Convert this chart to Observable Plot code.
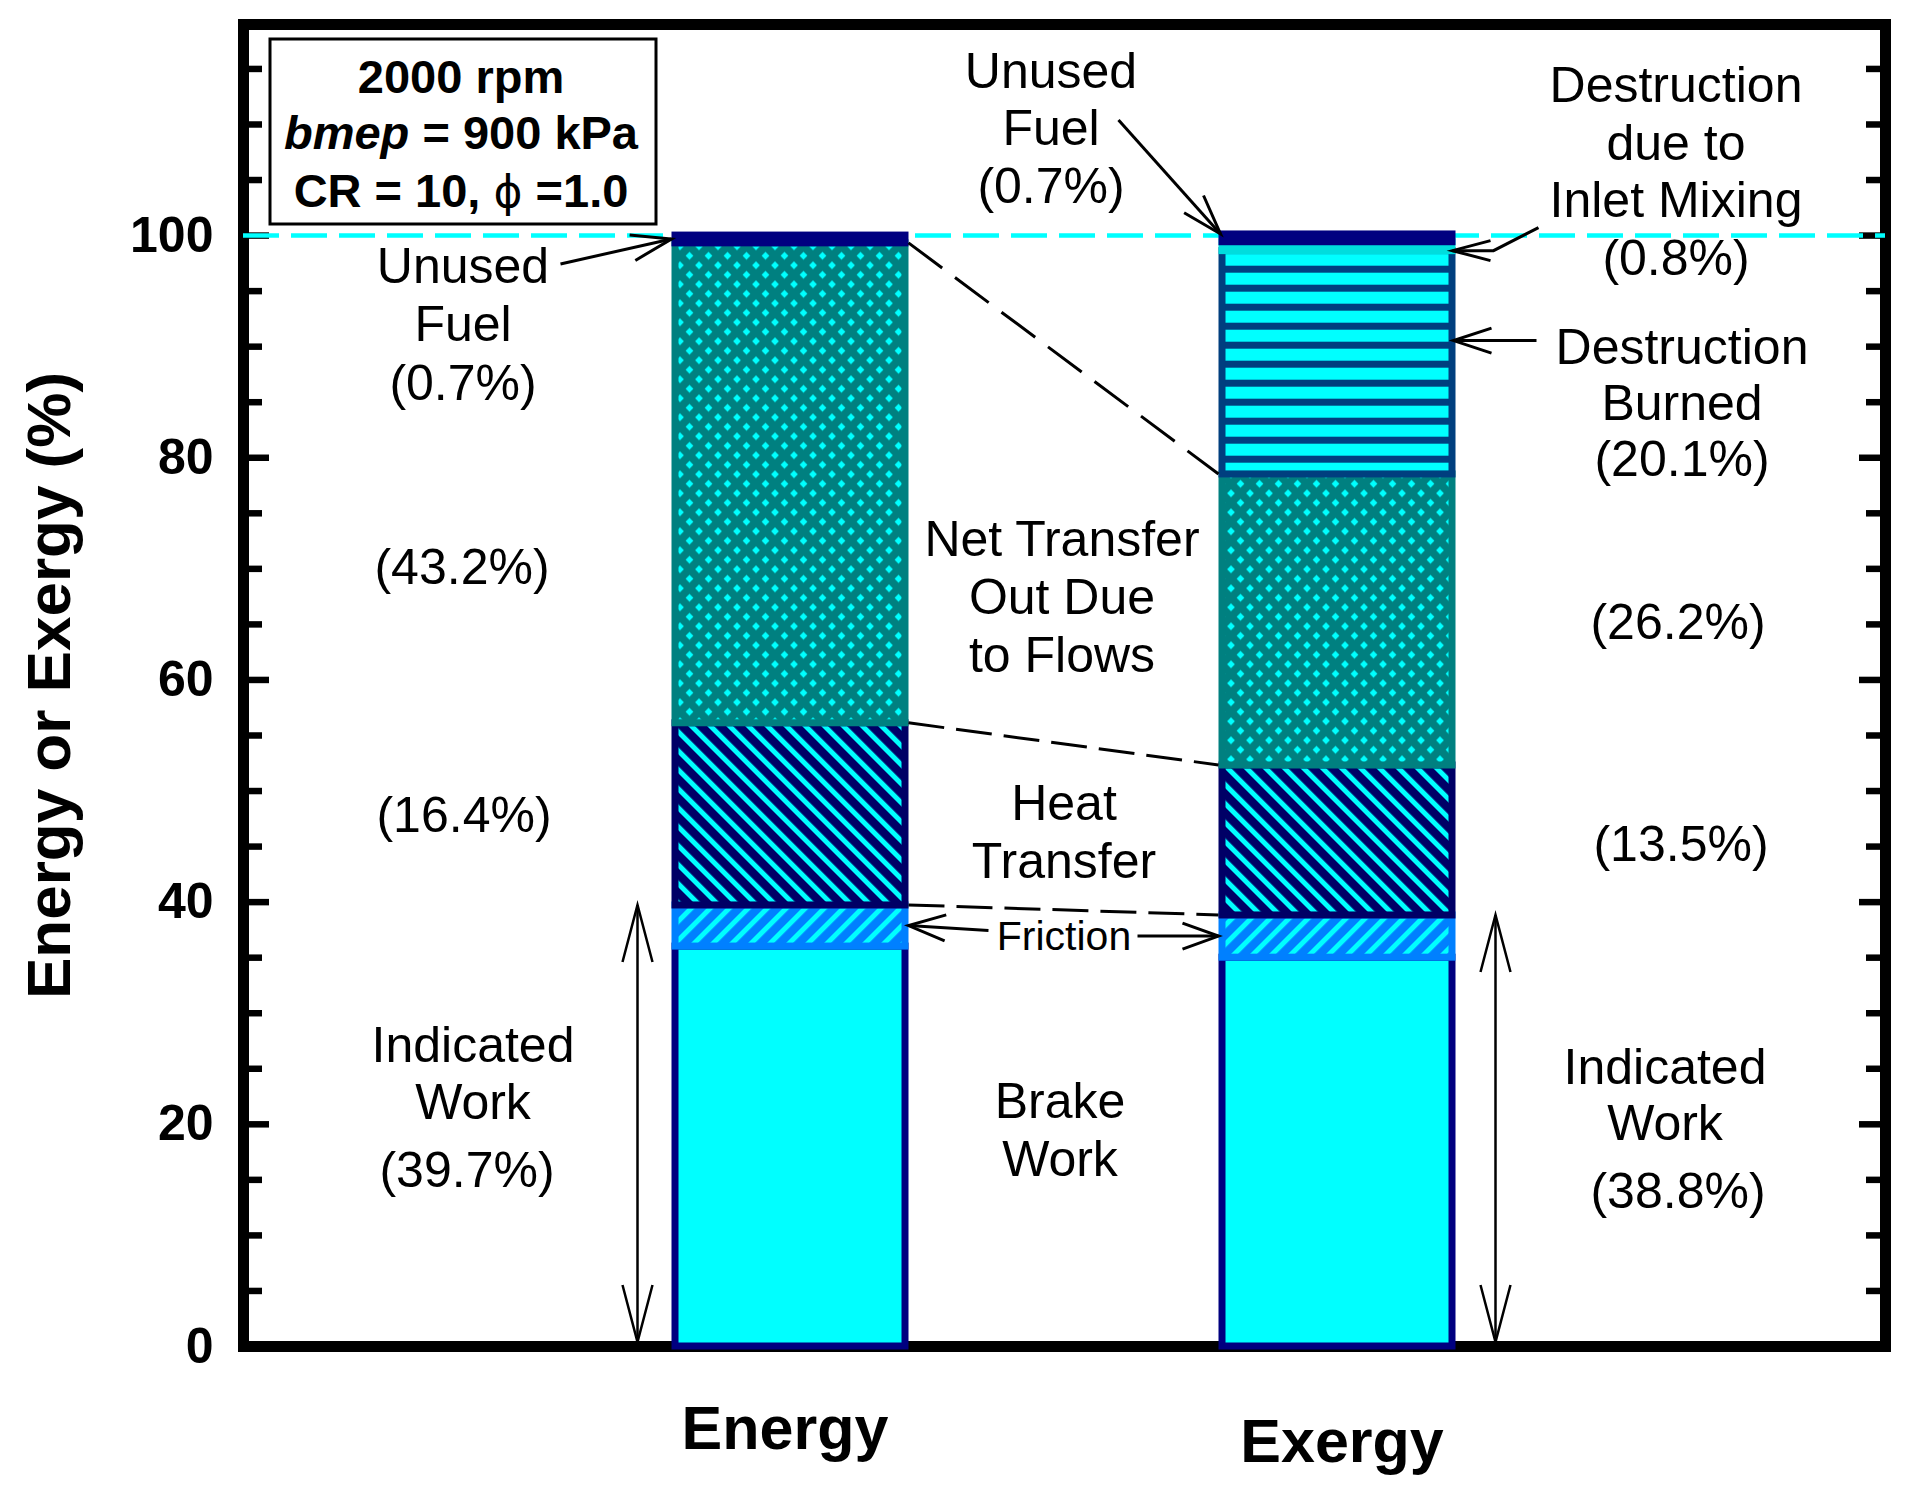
<!DOCTYPE html>
<html>
<head>
<meta charset="utf-8">
<script src="https://cdn.jsdelivr.net/npm/d3@7"></script>
<script src="https://cdn.jsdelivr.net/npm/@observablehq/plot@0.6"></script>
<style>
  body { margin: 0; background: #fff; }
  svg text { white-space: pre; }
</style>
</head>
<body>
<div id="chart"></div>
<script>
// ---------------- data ----------------
const categories = ["Energy", "Exergy"];
const energyComponents = ["Brake Work", "Friction", "Heat Transfer", "Net Transfer Out Due to Flows", "Unused Fuel"];
const energyValues = [36.0, 3.7, 16.4, 43.2, 0.7];
const exergyComponents = ["Brake Work", "Friction", "Heat Transfer", "Net Transfer Out Due to Flows", "Destruction Burned", "Destruction due to Inlet Mixing", "Unused Fuel"];
const exergyValues = [35.0, 3.8, 13.5, 26.2, 20.1, 0.8, 0.7];
const yMajorTicks = [0, 20, 40, 60, 80, 100];
const yMinorTicks = [5, 10, 15, 25, 30, 35, 45, 50, 55, 65, 70, 75, 85, 90, 95, 105, 110, 115];
const yDomain = [0, 119];

// ---------------- table for the library ----------------
const rows = [
  ...energyComponents.map((c, i) => ({category: categories[0], component: c, value: energyValues[i]})),
  ...exergyComponents.map((c, i) => ({category: categories[1], component: c, value: exergyValues[i]}))
];

// ---------------- styles ----------------
const W = 1908, H = 1491;
const margin = {top: 24, right: 23, bottom: 145, left: 243};
const plotW = W - margin.left - margin.right;
const BAR_STROKE = 7;
const FONT = "'Liberation Sans', Arial, Helvetica, sans-serif";
const segFill = ["#00FFFF", "url(#pFriction)", "url(#pHeat)", "url(#pDots)", "url(#pBurned)", "#00DDDD", "#000080"];
const segStroke = {
  "Brake Work": "#000080",
  "Friction": "#0080FF",
  "Heat Transfer": "#000066",
  "Net Transfer Out Due to Flows": "#008080",
  "Destruction Burned": "#003F7F",
  "Destruction due to Inlet Mixing": "#00DDDD",
  "Unused Fuel": "#000080"
};

// ---------------- pattern defs ----------------
function patternDefs() {
  const defs = d3.create("svg:defs");
  // diamond dots (net transfer)
  const pd = defs.append("pattern").attr("id", "pDots").attr("patternUnits", "userSpaceOnUse")
    .attr("width", 19).attr("height", 19).attr("x", -4).attr("y", -0.7);
  pd.append("rect").attr("width", 19).attr("height", 19).attr("fill", "#008080");
  const dia = (cx, cy, r) => `M${cx},${cy - r}L${cx + r},${cy}L${cx},${cy + r}L${cx - r},${cy}Z`;
  pd.append("path").attr("fill", "#00FFFF")
    .attr("d", [[0, 0], [19, 0], [0, 19], [19, 19], [9.5, 9.5]].map(([a, b]) => dia(a, b, 3.9)).join(""));
  // "\" stripes (heat transfer)
  const s = 13.435;
  const ph = defs.append("pattern").attr("id", "pHeat").attr("patternUnits", "userSpaceOnUse")
    .attr("width", s).attr("height", s).attr("patternTransform", "rotate(-45)");
  ph.append("rect").attr("width", s).attr("height", s).attr("fill", "#000066");
  ph.append("rect").attr("width", 5).attr("height", s).attr("fill", "#00FFFF");
  // "/" stripes (friction)
  const pf = defs.append("pattern").attr("id", "pFriction").attr("patternUnits", "userSpaceOnUse")
    .attr("width", s).attr("height", s).attr("patternTransform", "rotate(45)");
  pf.append("rect").attr("width", s).attr("height", s).attr("fill", "#0080FF");
  pf.append("rect").attr("width", 5).attr("height", s).attr("fill", "#00FFFF");
  // horizontal stripes (destruction burned)
  const pb = defs.append("pattern").attr("id", "pBurned").attr("patternUnits", "userSpaceOnUse")
    .attr("width", 19).attr("height", 19).attr("y", -0.3);
  pb.append("rect").attr("width", 19).attr("height", 19).attr("fill", "#00FFFF");
  pb.append("rect").attr("width", 19).attr("height", 7).attr("fill", "#003F7F");
  return defs.node();
}

// ---------------- arrows / connectors ----------------
function head(g, tx, ty, fx, fy, L, Wd, sw) {
  const dx = tx - fx, dy = ty - fy, len = Math.hypot(dx, dy);
  const ux = dx / len, uy = dy / len, nx = -uy, ny = ux;
  const bx = tx - ux * L, by = ty - uy * L;
  g.append("path").attr("stroke-width", sw)
    .attr("d", `M${bx + nx * Wd},${by + ny * Wd}L${tx},${ty}L${bx - nx * Wd},${by - ny * Wd}`);
}
function arrow(g, pts, {L = 40, Wd = 13, sw = 3, both = false} = {}) {
  g.append("path").attr("stroke-width", sw).attr("d", "M" + pts.map(p => p.join(",")).join("L"));
  const n = pts.length;
  head(g, pts[n - 1][0], pts[n - 1][1], pts[n - 2][0], pts[n - 2][1], L, Wd, sw);
  if (both) head(g, pts[0][0], pts[0][1], pts[1][0], pts[1][1], L, Wd, sw);
}

function annotationLines(index, scales, values, dims) {
  const {x, y} = scales;
  const bw = x.bandwidth(), h = BAR_STROKE / 2;
  const eL = x(categories[0]) - h, eR = x(categories[0]) + bw + h;
  const xL = x(categories[1]) - h, xR = x(categories[1]) + bw + h;
  const eCum = Array.from(d3.cumsum(energyValues));
  const xCum = Array.from(d3.cumsum(exergyValues));
  const g = d3.create("svg:g").attr("fill", "none").attr("stroke", "#000");

  // dashed connectors between the bars
  [[3, "42,16"], [2, "36,12"], [1, "36,12"]].forEach(([i, dash]) => {
    g.append("line").attr("x1", eR).attr("y1", y(eCum[i])).attr("x2", xL).attr("y2", y(xCum[i]))
      .attr("stroke-width", 3).attr("stroke-dasharray", dash);
  });

  // Unused fuel (energy)
  let t = [eL, y(eCum[3] + energyValues[4] / 2)];
  arrow(g, [[t[0] - 111, t[1] + 25], t], {L: 40, Wd: 13});
  // Unused fuel (exergy)
  t = [xL + 2, y(xCum[6])];
  arrow(g, [[t[0] - 102, t[1] - 114], t], {L: 40, Wd: 13});
  // inlet mixing
  t = [xR - 3, y(xCum[4])];
  arrow(g, [[t[0] + 86, t[1] - 23], [t[0] + 41, t[1]], t], {L: 38, Wd: 10});
  // destruction burned
  t = [xR - 2, y(90.5)];
  arrow(g, [[t[0] + 83, t[1]], t], {L: 38, Wd: 12.5});
  // friction arrows
  t = [eR, y(eCum[0] + energyValues[1] / 2)];
  arrow(g, [[t[0] + 80, t[1] + 5], t], {L: 37, Wd: 13});
  t = [xL, y(xCum[0] + exergyValues[1] / 2)];
  arrow(g, [[t[0] - 81, t[1]], t], {L: 36, Wd: 13});
  // indicated work double arrows
  arrow(g, [[eL - 34, y(eCum[1])], [eL - 34, y(0) - 4]], {L: 57, Wd: 15, sw: 2.5, both: true});
  arrow(g, [[xR + 40, y(xCum[1])], [xR + 40, y(0) - 4]], {L: 57, Wd: 15, sw: 2.5, both: true});
  return g.node();
}

function infoBox(index, scales, values, dims) {
  const x0 = dims.marginLeft + 27, y0 = dims.marginTop + 15, w = 386, hh = 185, cx = x0 + w / 2 - 2;
  const g = d3.create("svg:g");
  g.append("rect").attr("x", x0).attr("y", y0).attr("width", w).attr("height", hh)
    .attr("fill", "white").attr("stroke", "black").attr("stroke-width", 3);
  const line = (dy) => g.append("text").attr("x", cx).attr("y", y0 + dy).attr("text-anchor", "middle")
    .attr("font-weight", "bold").attr("font-size", 47).attr("fill", "black").attr("font-family", FONT);
  line(54).text("2000 rpm");
  const l2 = line(110);
  l2.append("tspan").attr("font-style", "italic").text("bmep");
  l2.append("tspan").text(" = 900 kPa");
  const l3 = line(168);
  l3.append("tspan").text("CR = 10, ");
  l3.append("tspan").attr("font-weight", "normal").attr("font-family", "'DejaVu Sans', sans-serif").attr("font-size", 44).text("ϕ");
  l3.append("tspan").text(" =1.0");
  return g.node();
}

// ---------------- text annotations ----------------
const NUDGE = -5;
function note(cat, text, dx, baseline, {size = 50, weight = "normal", lh = 1.16, nudge = NUDGE} = {}) {
  return Plot.text([{cat, text}], {
    x: "cat", text: "text", frameAnchor: "top", lineAnchor: "top",
    dx, dy: baseline + nudge - 0.71 * size - margin.top,
    fontSize: size, fontWeight: weight, lineHeight: lh, fill: "black", textAnchor: "middle"
  });
}

const E = categories[0], X = categories[1];
const chart = Plot.plot({
  width: W, height: H,
  marginTop: margin.top, marginRight: margin.right, marginBottom: margin.bottom, marginLeft: margin.left,
  style: {fontFamily: FONT, background: "white", overflow: "visible"},
  x: {type: "band", domain: categories, paddingInner: 0.5795, paddingOuter: 0.78975, align: 0.5, axis: null},
  y: {domain: yDomain, axis: null},
  color: {type: "ordinal", domain: exergyComponents, range: segFill},
  marks: [
    patternDefs,
    Plot.frame({stroke: "black", strokeWidth: 11}),
    // ticks inside the frame, both sides
    Plot.tickY(yMajorTicks, {y: d => d, insetRight: plotW - 26, strokeWidth: 6.5, stroke: "black"}),
    Plot.tickY(yMinorTicks, {y: d => d, insetRight: plotW - 19, strokeWidth: 6.5, stroke: "black"}),
    Plot.tickY(yMajorTicks, {y: d => d, insetLeft: plotW - 26, strokeWidth: 6.5, stroke: "black"}),
    Plot.tickY(yMinorTicks, {y: d => d, insetLeft: plotW - 19, strokeWidth: 6.5, stroke: "black"}),
    Plot.text(yMajorTicks, {y: d => d, text: d => String(d), frameAnchor: "left", textAnchor: "end", dx: -30,
      fontSize: 50, fontWeight: "bold", fill: "black"}),
    Plot.ruleY([100], {stroke: "#00FFFF", strokeWidth: 4.5, strokeDasharray: "36,12"}),
    Plot.barY(rows, {x: "category", y: "value", fill: "component", stroke: d => segStroke[d.component],
      strokeWidth: BAR_STROKE, inset: 0}),
    annotationLines,
    // energy side
    note(E, "Unused\nFuel\n(0.7%)", -327.5, 281, {lh: 1.17}),
    note(E, "(43.2%)", -328.5, 583),
    note(E, "(16.4%)", -326.5, 831),
    note(E, "Indicated\nWork", -317.5, 1062, {lh: 1.14}),
    note(E, "(39.7%)", -323.5, 1185.5),
    // between the bars
    note(E, "Net Transfer\nOut Due\nto Flows", 271.5, 555),
    note(E, "Heat\nTransfer", 273.5, 819),
    note(E, "Friction", 273.5, 950, {size: 41}),
    note(E, "Brake\nWork", 269.5, 1117),
    // exergy side
    note(X, "Unused\nFuel\n(0.7%)", -286.5, 87, {lh: 1.15}),
    note(X, "Destruction\ndue to\nInlet Mixing\n(0.8%)", 338.5, 101, {lh: 1.154}),
    note(X, "Destruction\nBurned\n(20.1%)", 344.5, 364, {lh: 1.12}),
    note(X, "(26.2%)", 340.5, 638),
    note(X, "(13.5%)", 343.5, 860),
    note(X, "Indicated\nWork", 327.5, 1084, {lh: 1.12}),
    note(X, "(38.8%)", 340.5, 1207),
    // category labels
    note(E, E, -5.5, 1450, {size: 61, weight: "bold", nudge: -8}),
    note(X, X, 4.5, 1462, {size: 61, weight: "bold", nudge: -7}),
    // y axis label
    Plot.text(["Energy or Exergy (%)"], {frameAnchor: "left", textAnchor: "middle", rotate: -90, dx: -193.8,
      fontSize: 62, fontWeight: "bold", fill: "black"}),
    infoBox
  ]
});
document.getElementById("chart").appendChild(chart);
</script>
</body>
</html>
